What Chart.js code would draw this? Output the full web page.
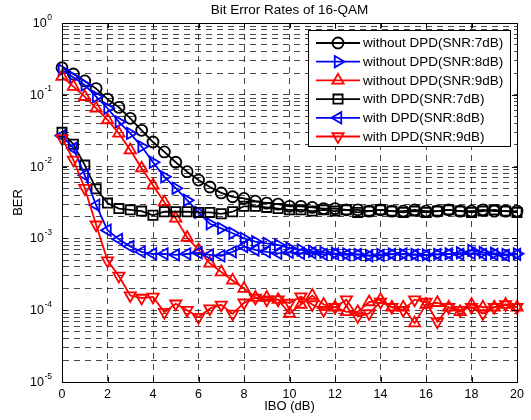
<!DOCTYPE html>
<html>
<head>
<meta charset="utf-8">
<script src="https://cdn.jsdelivr.net/npm/chart.js"></script>
<style>
  html, body { margin: 0; padding: 0; background: #fff; }
  #wrap { width: 531px; height: 420px; }
</style>
</head>
<body>
<div id="wrap"><canvas id="berChart" width="531" height="420"></canvas></div>
<script>
// IBO axis (dB)
const ibo = [0, 0.5, 1, 1.5, 2, 2.5, 3, 3.5, 4, 4.5, 5, 5.5, 6, 6.5, 7, 7.5, 8, 8.5, 9, 9.5,
    10, 10.5, 11, 11.5, 12, 12.5, 13, 13.5, 14, 14.5, 15, 15.5, 16, 16.5, 17, 17.5, 18, 18.5, 19, 19.5, 20];

// BER curves
const berNoDpd7 = [0.238, 0.195, 0.156, 0.122, 0.087, 0.067, 0.047, 0.032, 0.022, 0.016,
    0.0115, 0.0085, 0.0065, 0.0052, 0.0043, 0.0038, 0.0036, 0.0033, 0.0031, 0.0030,
    0.0028, 0.0028, 0.0027, 0.0026, 0.0026, 0.0025, 0.0025, 0.0024, 0.0025, 0.0024,
    0.0024, 0.0025, 0.0024, 0.0024, 0.0025, 0.0024, 0.0024, 0.0025, 0.0024, 0.0024, 0.0024];
const berNoDpd8 = [0.221, 0.175, 0.137, 0.094, 0.065, 0.042, 0.029, 0.019, 0.0115, 0.0072,
    0.0050, 0.0034, 0.0023, 0.0016, 0.00138, 0.00118, 0.0010, 0.0009, 0.00085, 0.00081,
    0.00073, 0.00069, 0.00066, 0.00064, 0.00062, 0.00061, 0.00060, 0.00058, 0.00060, 0.00061,
    0.00060, 0.00060, 0.00059, 0.00060, 0.00061, 0.00063, 0.00068, 0.00064, 0.00062, 0.00060, 0.00061];
const berNoDpd9 = [0.179, 0.130, 0.094, 0.065, 0.0446, 0.029, 0.017, 0.0095, 0.0055, 0.0032,
    0.0019, 0.00103, 0.00069, 0.00045, 0.00034, 0.00026, 0.00020, 0.00015, 0.00015, 0.00014,
    0.00009, 0.00012, 0.00016, 0.00012, 0.00011, 0.000095, 0.000095, 0.00013, 0.00014, 0.00011,
    0.00011, 0.000066, 0.00012, 0.000127, 0.00011, 0.000095, 0.00012, 0.00011, 0.00011, 0.00012, 0.00011];
const berDpd7 = [0.030, 0.0205, 0.0105, 0.0049, 0.0031, 0.0026, 0.0025, 0.0024, 0.0021, 0.00235,
    0.00235, 0.00235, 0.0023, 0.0023, 0.0022, 0.00235, 0.0028, 0.0028, 0.0027, 0.0026,
    0.0025, 0.0025, 0.0024, 0.0025, 0.0024, 0.0025, 0.0023, 0.0024, 0.0025, 0.0024,
    0.0023, 0.0024, 0.0023, 0.0024, 0.0025, 0.0024, 0.0023, 0.0024, 0.0025, 0.0024, 0.0023];
const berDpd8 = [0.027, 0.018, 0.0076, 0.0029, 0.0013, 0.00097, 0.00077, 0.00065, 0.00061, 0.00061,
    0.00059, 0.00061, 0.00063, 0.00059, 0.00057, 0.00065, 0.00077, 0.00069, 0.00065, 0.00062,
    0.00064, 0.00062, 0.00063, 0.00060, 0.00061, 0.00059, 0.00060, 0.00057, 0.00058, 0.00060,
    0.00061, 0.00059, 0.00058, 0.00060, 0.00061, 0.00060, 0.00062, 0.00060, 0.00060, 0.00058, 0.00060];
const berDpd9 = [0.0248, 0.0124, 0.0050, 0.00155, 0.00049, 0.00030, 0.00016, 0.000148, 0.000153, 0.000094,
    0.000123, 0.00010, 0.00008, 0.000105, 0.000119, 0.000089, 0.000127, 0.000148, 0.00014, 0.00014,
    0.000126, 0.000155, 0.00012, 0.00010, 0.00011, 0.00014, 0.000082, 0.00009, 0.00013, 0.00011,
    0.00010, 0.00014, 0.00013, 0.000069, 0.00011, 0.00010, 0.00011, 0.00009, 0.00011, 0.00012, 0.00011];

const seriesLabels = ['without DPD(SNR:7dB)', 'without DPD(SNR:8dB)', 'without DPD(SNR:9dB)',
    'with DPD(SNR:7dB)', 'with DPD(SNR:8dB)', 'with DPD(SNR:9dB)'];
const xTicks = [0, 2, 4, 6, 8, 10, 12, 14, 16, 18, 20];
const yDecades = [1e-5, 1e-4, 1e-3, 1e-2, 1e-1, 1];
const yExponents = ['-5', '-4', '-3', '-2', '-1', '0'];

const FONT = '"Liberation Sans", Arial, Helvetica, sans-serif';
const GRID = 'rgba(0,0,0,0.72)';

// style per series: colour, marker, rotation, radius
const styles = [
    {color: '#000000', point: 'circle', rot: 0, r: 5.5},
    {color: '#0000ff', point: 'triangle', rot: 90, r: 6.5},
    {color: '#ff0000', point: 'triangle', rot: 0, r: 6.5},
    {color: '#000000', point: 'rect', rot: 0, r: 6.5},
    {color: '#0000ff', point: 'triangle', rot: -90, r: 6.5},
    {color: '#ff0000', point: 'triangle', rot: 180, r: 6.5}
];
const allSeries = [berNoDpd7, berNoDpd8, berNoDpd9, berDpd7, berDpd8, berDpd9];

function makeDatasets() {
    return allSeries.map((arr, i) => ({
        label: seriesLabels[i],
        data: arr.map((v, k) => ({x: ibo[k], y: v})),
        borderColor: styles[i].color,
        backgroundColor: 'rgba(0,0,0,0)',
        borderWidth: 1.8,
        pointStyle: styles[i].point,
        pointRotation: styles[i].rot,
        pointRadius: styles[i].r,
        pointBorderWidth: 1.8,
        pointBorderColor: styles[i].color,
        pointBackgroundColor: 'rgba(0,0,0,0)',
        tension: 0,
        clip: false,
        order: 6 - i // later series on top, like matlab
    }));
}

// 10^n tick labels with raised exponent
const yLabelPlugin = {
    id: 'yLabels',
    afterDraw(chart) {
        const ctx = chart.ctx;
        const y = chart.scales.y;
        const right = 52;
        ctx.save();
        ctx.fillStyle = '#000';
        yDecades.forEach((d, i) => {
            const py = y.getPixelForValue(d);
            ctx.font = '8.5px ' + FONT;
            const ew = ctx.measureText(yExponents[i]).width;
            ctx.textAlign = 'left';
            ctx.textBaseline = 'alphabetic';
            ctx.fillText(yExponents[i], right - ew, py - 3.5);
            ctx.font = '12.5px ' + FONT;
            ctx.textAlign = 'right';
            ctx.textBaseline = 'middle';
            ctx.fillText('10', right - ew - 0.5, py + 0.5);
        });
        ctx.restore();
    }
};

// axes box and inward ticks
const boxPlugin = {
    id: 'box',
    afterDraw(chart) {
        const {ctx, chartArea: a} = chart;
        const xs = chart.scales.x, ys = chart.scales.y;
        ctx.save();
        ctx.strokeStyle = '#000';
        ctx.lineWidth = 1;
        ctx.setLineDash([]);
        ctx.strokeRect(Math.round(a.left) + 0.5, Math.round(a.top) + 0.5,
            Math.round(a.right - a.left), Math.round(a.bottom - a.top));
        ctx.beginPath();
        xTicks.forEach(v => {
            const px = Math.round(xs.getPixelForValue(v)) + 0.5;
            ctx.moveTo(px, a.bottom); ctx.lineTo(px, a.bottom - 5);
            ctx.moveTo(px, a.top); ctx.lineTo(px, a.top + 5);
        });
        yDecades.forEach(v => {
            const py = Math.round(ys.getPixelForValue(v)) + 0.5;
            ctx.moveTo(a.left, py); ctx.lineTo(a.left + 5, py);
            ctx.moveTo(a.right, py); ctx.lineTo(a.right - 5, py);
        });
        ctx.stroke();
        ctx.restore();
    }
};

function drawMarker(ctx, s, x, y) {
    if (Chart.helpers && Chart.helpers.drawPoint) {
        Chart.helpers.drawPoint(ctx, {pointStyle: s.point, rotation: s.rot, radius: s.r, borderWidth: 1.8}, x, y);
    }
}

// matlab-like legend box: line + marker + text
const legendPlugin = {
    id: 'matLegend',
    afterDraw(chart) {
        const ctx = chart.ctx;
        const bx = 308.5, by = 30.5, bw = 202, bh = 116;
        ctx.save();
        ctx.fillStyle = '#fff';
        ctx.fillRect(bx, by, bw, bh);
        ctx.strokeStyle = '#000';
        ctx.lineWidth = 1;
        ctx.strokeRect(bx, by, bw, bh);
        seriesLabels.forEach((lbl, i) => {
            const ry = 43 + i * 18.7;
            const s = styles[i];
            ctx.strokeStyle = s.color;
            ctx.lineWidth = 1.8;
            ctx.beginPath();
            ctx.moveTo(316, ry);
            ctx.lineTo(360, ry);
            ctx.stroke();
            ctx.fillStyle = 'rgba(0,0,0,0)';
            ctx.lineWidth = 1.8;
            drawMarker(ctx, s, 338, ry);
            ctx.fillStyle = '#000';
            ctx.font = '13.5px ' + FONT;
            ctx.textAlign = 'left';
            ctx.textBaseline = 'middle';
            ctx.fillText(lbl, 363, ry + 0.5);
        });
        ctx.restore();
    }
};

function configChart() {
    const ctx = document.getElementById('berChart').getContext('2d');
    new Chart(ctx, {
        type: 'line',
        data: {datasets: makeDatasets()},
        options: {
            responsive: false,
            animation: false,
            devicePixelRatio: 1,
            layout: {padding: {left: 0, right: 14, top: 0, bottom: 0}},
            plugins: {
                legend: {display: false},
                tooltip: {enabled: false},
                title: {
                    display: true,
                    text: 'Bit Error Rates of 16-QAM',
                    fullSize: false,
                    color: '#000',
                    font: {family: FONT, size: 13.5, weight: 'normal'},
                    padding: {top: 2, bottom: 4.8}
                }
            },
            scales: {
                x: {
                    type: 'linear',
                    min: 0,
                    max: 20,
                    afterBuildTicks: scale => { scale.ticks = xTicks.map(v => ({value: v})); },
                    afterFit: scale => { scale.height = 38; },
                    ticks: {color: '#000', font: {family: FONT, size: 12.5}, padding: 5, autoSkip: false, maxRotation: 0},
                    grid: {color: GRID, lineWidth: 1, drawTicks: false},
                    border: {display: true, color: '#000', width: 1, dash: [6, 5]},
                    title: {display: true, text: 'IBO (dB)', color: '#000',
                        font: {family: FONT, size: 13}, padding: {top: 0, bottom: 6}}
                },
                y: {
                    type: 'logarithmic',
                    min: 1e-5,
                    max: 1,
                    afterBuildTicks: scale => {
                        const t = [];
                        yDecades.forEach(d => {
                            for (let m = 1; m < 10; m++) {
                                if (d * m <= 1) t.push({value: d * m});
                            }
                        });
                        scale.ticks = t;
                    },
                    afterFit: scale => { scale.width = 62; },
                    ticks: {display: false},
                    grid: {color: GRID, lineWidth: 1, drawTicks: false},
                    border: {display: true, color: '#000', width: 1, dash: [6, 5]},
                    title: {display: true, text: 'BER', color: '#000',
                        font: {family: FONT, size: 13}, padding: {top: 11, bottom: 0}}
                }
            }
        },
        plugins: [yLabelPlugin, boxPlugin, legendPlugin]
    });
}

configChart();
</script>
</body>
</html>
